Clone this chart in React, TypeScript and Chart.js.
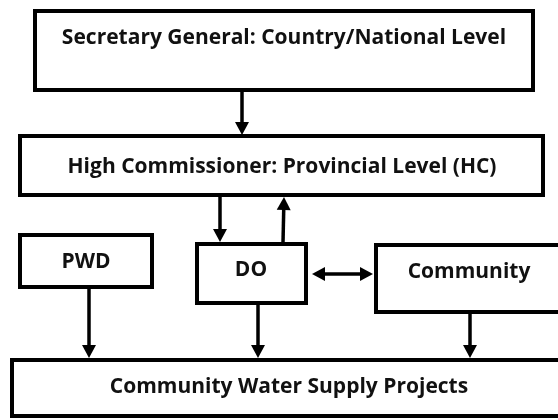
import React, { useEffect, useRef } from "react";
import { Chart, registerables } from "chart.js";

Chart.register(...registerables);

// Boxes of the organisation chart (diagram units = page pixels)
const boxLabels = [
  "Secretary General: Country/National Level",
  "High Commissioner: Provincial Level (HC)",
  "PWD",
  "DO",
  "Community",
  "Community Water Supply Projects",
];
const boxLeft = [35, 20, 20, 197, 376, 12];
const boxTop = [11, 136, 235, 244, 245, 360];
const boxRight = [533, 543, 152, 306, 580, 580];
const boxBottom = [90, 195, 287, 303, 312, 416];
const labelX = [284, 282, 86, 251, 469, 289];
const labelY = [38, 167, 262, 270, 272, 387];

// Arrows: from -> to, heads "end" or "both"
const arrowFromX = [242, 220, 283, 312, 89, 258, 470];
const arrowFromY = [92, 197, 243, 274, 289, 305, 314];
const arrowToX = [242, 220, 284, 373, 89, 258, 470];
const arrowToY = [135, 242, 197, 274, 358, 358, 358];
const arrowHeads = ["end", "end", "end", "both", "end", "end", "end"];

function drawHead(ctx: CanvasRenderingContext2D, x1: number, y1: number, x2: number, y2: number) {
  const ang = Math.atan2(y2 - y1, x2 - x1);
  const len = 13;
  const half = 7;
  ctx.beginPath();
  ctx.moveTo(x2, y2);
  ctx.lineTo(x2 - len * Math.cos(ang) + half * Math.sin(ang), y2 - len * Math.sin(ang) - half * Math.cos(ang));
  ctx.lineTo(x2 - len * Math.cos(ang) - half * Math.sin(ang), y2 - len * Math.sin(ang) + half * Math.cos(ang));
  ctx.closePath();
  ctx.fill();
}

const diagramPlugin = {
  id: "diagram",
  afterDatasetsDraw(chart: any) {
    const ctx: CanvasRenderingContext2D = chart.ctx;
    const xs = chart.scales.x;
    const ys = chart.scales.y;
    const px = (v: number) => xs.getPixelForValue(v);
    const py = (v: number) => ys.getPixelForValue(v);
    ctx.save();
    ctx.strokeStyle = "#000";
    ctx.fillStyle = "#000";
    // boxes
    ctx.lineWidth = 4;
    for (let i = 0; i < boxLabels.length; i++) {
      const x1 = px(boxLeft[i]);
      const y1 = py(boxTop[i]);
      const x2 = px(boxRight[i]);
      const y2 = py(boxBottom[i]);
      ctx.fillStyle = "#fff";
      ctx.fillRect(x1, y1, x2 - x1, y2 - y1);
      ctx.strokeRect(x1, y1, x2 - x1, y2 - y1);
    }
    // labels
    ctx.fillStyle = "#111";
    ctx.font = "bold 21px 'Open Sans'";
    ctx.textAlign = "center";
    ctx.textBaseline = "middle";
    for (let i = 0; i < boxLabels.length; i++) {
      ctx.fillText(boxLabels[i], px(labelX[i]), py(labelY[i]));
    }
    // arrows
    ctx.fillStyle = "#000";
    ctx.lineWidth = 3.5;
    for (let i = 0; i < arrowFromX.length; i++) {
      const x1 = px(arrowFromX[i]);
      const y1 = py(arrowFromY[i]);
      const x2 = px(arrowToX[i]);
      const y2 = py(arrowToY[i]);
      const ang = Math.atan2(y2 - y1, x2 - x1);
      const both = arrowHeads[i] === "both";
      const sx = both ? x1 + 10 * Math.cos(ang) : x1;
      const sy = both ? y1 + 10 * Math.sin(ang) : y1;
      const ex = x2 - 10 * Math.cos(ang);
      const ey = y2 - 10 * Math.sin(ang);
      ctx.beginPath();
      ctx.moveTo(sx, sy);
      ctx.lineTo(ex, ey);
      ctx.stroke();
      drawHead(ctx, x1, y1, x2, y2);
      if (both) drawHead(ctx, x2, y2, x1, y1);
    }
    ctx.restore();
  },
};

export default function App() {
  const ref = useRef<HTMLCanvasElement | null>(null);
  useEffect(() => {
    if (!ref.current) return;
    const chart = new Chart(ref.current, {
      type: "scatter",
      data: {
        datasets: [
          {
            label: "boxes",
            data: boxLabels.map((_, i) => ({ x: labelX[i], y: labelY[i] })),
            pointRadius: 0,
            showLine: false,
          },
        ],
      },
      options: {
        animation: false,
        responsive: false,
        events: [],
        layout: { padding: 0 },
        plugins: { legend: { display: false }, tooltip: { enabled: false }, title: { display: false } },
        scales: {
          x: { type: "linear", min: 0, max: 558, display: false },
          y: { type: "linear", min: 0, max: 420, reverse: true, display: false },
        },
      },
      plugins: [diagramPlugin],
    });
    return () => chart.destroy();
  }, []);
  return (
    <div style={{ position: "fixed", left: 0, top: 0, width: 558, height: 420, background: "#fff" }}>
      <canvas ref={ref} width={558} height={420} style={{ display: "block" }} />
    </div>
  );
}
